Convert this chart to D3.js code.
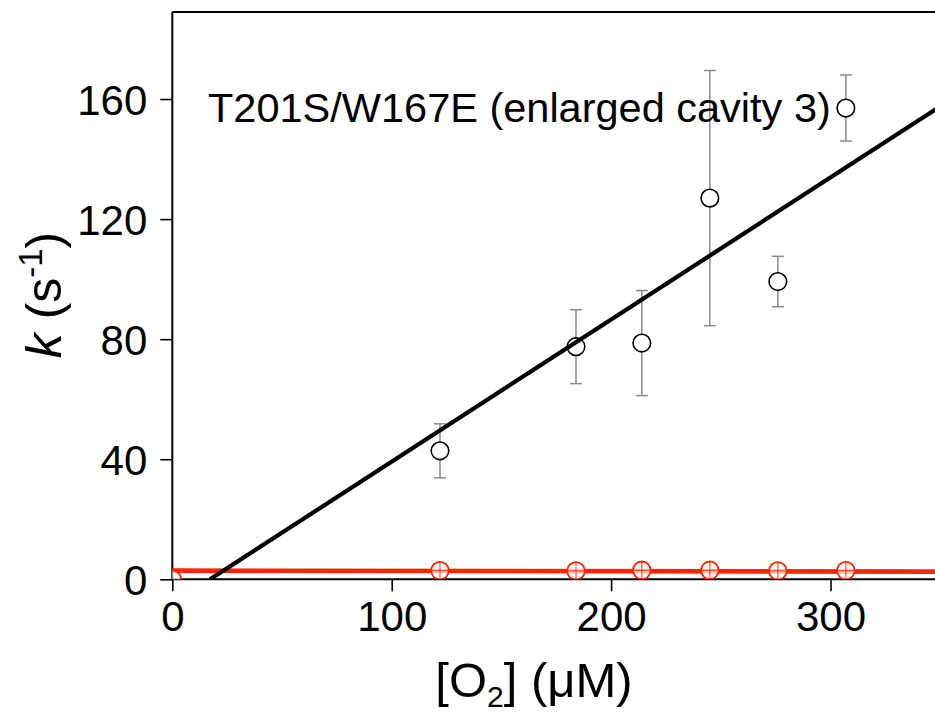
<!DOCTYPE html>
<html>
<head>
<meta charset="utf-8">
<script src="https://cdn.jsdelivr.net/npm/d3@7"></script>
<style>
  body { margin: 0; background: #fff; }
  svg { display: block; font-family: Arial, "Liberation Sans", sans-serif; }
</style>
</head>
<body>
<svg width="935" height="715"></svg>
<script>
// data
const o2 = [122, 184, 214, 245, 276, 307];            // [O2] (uM)
const kMutant = [42.8, 77.5, 78.7, 127.0, 99.2, 157.0]; // k (s-1), black
const kMutantErr = [9, 12.3, 17.5, 42.5, 8.4, 11];
const o2Red = [0, 122, 184, 214, 245, 276, 307];
const kRed = [0, 2.9, 2.8, 3.0, 3.0, 2.8, 2.9];
const fitBlack = {slope: 0.4734, intercept: -8.15};
const fitRed = {slope: -0.001, intercept: 2.9};
const xTicks = [0, 100, 200, 300];
const yTicks = [0, 40, 80, 120, 160];
const label = "T201S/W167E (enlarged cavity 3)";

const red = "#ff2400";

const svg = d3.select("svg");
const x = d3.scaleLinear().domain([0, 350]).range([172.3, 940.2]);
const y = d3.scaleLinear().domain([0, 189]).range([579.3, 12]);

svg.append("defs").append("clipPath").attr("id", "plot")
    .append("rect")
    .attr("x", x(0)).attr("y", y(189))
    .attr("width", 935 - x(0)).attr("height", y(0) - y(189));

// axes
const xAxis = svg.append("g")
    .attr("transform", `translate(0,${y(0)})`)
    .call(d3.axisBottom(x).tickValues(xTicks).tickSize(12).tickPadding(10).tickFormat(d3.format("d")));
const yAxis = svg.append("g")
    .attr("transform", `translate(${x(0)},0)`)
    .call(d3.axisLeft(y).tickValues(yTicks).tickSize(12).tickPadding(13).tickFormat(d3.format("d")));

[xAxis, yAxis].forEach(a => {
    a.select(".domain").remove();
    a.selectAll(".tick line").attr("stroke", "#000").attr("stroke-width", 1.6);
    a.selectAll(".tick text").attr("fill", "#000").style("font-size", "42px")
        .style("font-family", "Arial, 'Liberation Sans', sans-serif");
});
xAxis.selectAll(".tick text").attr("dy", "0.71em");
yAxis.selectAll(".tick text").attr("dy", "0.36em");

// frame: left and bottom axis lines plus top border
svg.append("line").attr("x1", x(0)).attr("x2", x(0)).attr("y1", y(189)).attr("y2", y(0))
    .attr("stroke", "#000").attr("stroke-width", 2);
svg.append("line").attr("x1", x(0)).attr("x2", 935).attr("y1", y(0)).attr("y2", y(0))
    .attr("stroke", "#000").attr("stroke-width", 2);
svg.append("line").attr("x1", x(0)).attr("x2", 935).attr("y1", y(189)).attr("y2", y(189))
    .attr("stroke", "#000").attr("stroke-width", 2);

const plot = svg.append("g").attr("clip-path", "url(#plot)");

// error bars (black series)
const bars = plot.append("g").selectAll("g")
    .data(o2.map((d, i) => ({x: d, y: kMutant[i], e: kMutantErr[i]})))
    .enter().append("g").attr("stroke", "#8a8a8a").attr("stroke-width", 1.5);
bars.append("line")
    .attr("x1", d => x(d.x)).attr("x2", d => x(d.x))
    .attr("y1", d => y(d.y + d.e)).attr("y2", d => y(d.y - d.e));
bars.append("line")
    .attr("x1", d => x(d.x) - 6).attr("x2", d => x(d.x) + 6)
    .attr("y1", d => y(d.y + d.e)).attr("y2", d => y(d.y + d.e));
bars.append("line")
    .attr("x1", d => x(d.x) - 6).attr("x2", d => x(d.x) + 6)
    .attr("y1", d => y(d.y - d.e)).attr("y2", d => y(d.y - d.e));

plot.append("g").selectAll("circle")
    .data(o2.map((d, i) => ({x: d, y: kMutant[i]})))
    .enter().append("circle")
    .attr("cx", d => x(d.x)).attr("cy", d => y(d.y)).attr("r", 8.8)
    .attr("fill", "#fff").attr("stroke", "#000").attr("stroke-width", 1.6);

// red fit line
plot.append("line")
    .attr("x1", x(0)).attr("x2", x(350))
    .attr("y1", y(fitRed.intercept)).attr("y2", y(fitRed.intercept + fitRed.slope * 350))
    .attr("stroke", red).attr("stroke-width", 4.6);

// red points with crosshair
const redPts = plot.append("g").selectAll("g")
    .data(o2Red.map((d, i) => ({x: d, y: kRed[i]})))
    .enter().append("g");
redPts.append("circle")
    .attr("cx", d => x(d.x)).attr("cy", d => y(d.y)).attr("r", 8.8)
    .attr("fill", "#fff").attr("fill-opacity", 0.7)
    .attr("stroke", red).attr("stroke-width", 1.8);
redPts.filter(d => d.x > 0).append("line")
    .attr("x1", d => x(d.x)).attr("x2", d => x(d.x))
    .attr("y1", d => y(d.y) - 8.8).attr("y2", d => y(d.y) + 8.8)
    .attr("stroke", red).attr("stroke-width", 1.2).attr("stroke-opacity", 0.75);
redPts.filter(d => d.x > 0).append("line")
    .attr("x1", d => x(d.x) - 8.8).attr("x2", d => x(d.x) + 8.8)
    .attr("y1", d => y(d.y)).attr("y2", d => y(d.y))
    .attr("stroke", red).attr("stroke-width", 1.2).attr("stroke-opacity", 0.75);

// black fit line, starting where it crosses zero
const x0 = -fitBlack.intercept / fitBlack.slope;
plot.append("line")
    .attr("x1", x(x0)).attr("x2", x(350))
    .attr("y1", y(0)).attr("y2", y(fitBlack.intercept + fitBlack.slope * 350))
    .attr("stroke", "#000").attr("stroke-width", 4.2);

// annotation
svg.append("text")
    .attr("x", 208).attr("y", 121.5)
    .style("font-size", "41.5px")
    .text(label);

// axis titles
const xt = svg.append("text")
    .attr("x", 534).attr("y", 697)
    .attr("text-anchor", "middle")
    .style("font-size", "49px");
xt.append("tspan").text("[O");
xt.append("tspan").attr("dy", 10).style("font-size", "30px").text("2");
xt.append("tspan").attr("dy", -10).text("] (\u03bcM)");

const yt = svg.append("text")
    .attr("transform", `translate(61,295) rotate(-90)`)
    .attr("text-anchor", "middle")
    .style("font-size", "50px");
yt.append("tspan").style("font-style", "italic").text("k");
yt.append("tspan").text(" (s");
yt.append("tspan").attr("dy", -19).style("font-size", "33px").text("-1");
yt.append("tspan").attr("dy", 19).text(")");
</script>
</body>
</html>
